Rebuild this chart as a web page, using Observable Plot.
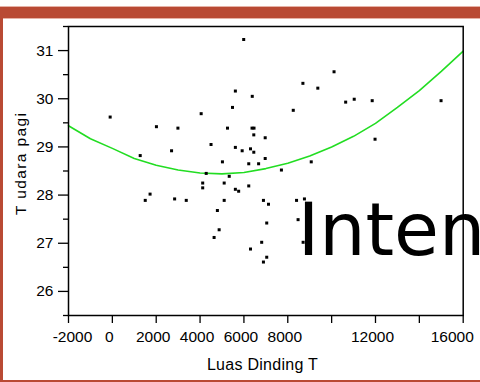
<!DOCTYPE html>
<html><head><meta charset="utf-8">
<script src="https://cdn.jsdelivr.net/npm/d3@7"></script>
<script src="https://cdn.jsdelivr.net/npm/@observablehq/plot@0.6"></script>
<style>
html,body{margin:0;padding:0;background:#fff;}
#wrap{position:relative;width:480px;height:382px;overflow:hidden;background:#fff;font-family:"Liberation Sans",Arial,sans-serif;}
#chart{position:absolute;left:0;top:0;}
#chart svg{overflow:visible;}
.band{position:absolute;background:#b94a34;}
#overlay{position:absolute;left:0;top:0;overflow:hidden;}
</style></head><body>
<div id="wrap">
<div id="chart"></div>
<svg id="overlay" width="480" height="382">
  <text x="262.4" y="370" text-anchor="middle" font-family="Liberation Sans, Arial, sans-serif" font-size="16" textLength="111" fill="#000">Luas Dinding T</text>
  <text transform="translate(26,164) rotate(-90)" text-anchor="middle" font-family="Liberation Sans, Arial, sans-serif" font-size="15.5" textLength="102" fill="#000">T udara pagi</text>
  <text x="297.7" y="255" font-family="DejaVu Sans" font-size="73" fill="#000">Inten</text>
</svg>
<div class="band" style="left:0;top:6px;width:480px;height:1px;background:#e6b2a6"></div>
<div class="band" style="left:0;top:7px;width:480px;height:11px"></div>
<div class="band" style="left:0;top:18px;width:480px;height:1px;background:#e6b2a6"></div>
<div class="band" style="left:0;top:18px;width:3px;height:364px"></div>
<div class="band" style="left:0;top:380px;width:480px;height:2px"></div>
</div>
<script>
// scatter points: Luas Dinding T (x) vs T udara pagi (y)
const xVals = [-100, 4050, 2010, 2990, 5250, 5990, 10110, 8690, 9370, 5610, 6380, 5480, 8250, 10640, 11030, 11850, 14990, 11980, 6370, 6460, 6450, 6970, 5610, 5920, 6300, 6450, 6970, 6220, 6670, 9070, 7710, 6220, 6890, 7120, 8400, 8760, 7040, 8470, 6810, 6300, 8700, 7040, 6890, 1270, 2700, 4500, 5020, 5330, 4280, 4120, 4120, 5100, 5610, 5760, 1720, 1500, 2840, 3370, 5100, 4790, 4870, 4640];
const yVals = [29.62, 29.69, 29.42, 29.39, 29.39, 31.23, 30.56, 30.32, 30.22, 30.16, 30.05, 29.82, 29.76, 29.93, 29.99, 29.96, 29.96, 29.16, 29.39, 29.39, 29.25, 29.19, 28.99, 28.92, 28.96, 28.89, 28.76, 28.65, 28.65, 28.69, 28.52, 28.19, 27.89, 27.81, 27.89, 27.92, 27.42, 27.49, 27.02, 26.88, 27.02, 26.71, 26.61, 28.82, 28.92, 29.05, 28.69, 28.39, 28.45, 28.25, 28.15, 28.25, 28.12, 28.08, 28.02, 27.89, 27.92, 27.89, 27.89, 27.68, 27.28, 27.12];
// fitted curve
const curveX = [-2000, -1000, 0, 1000, 2000, 3000, 4000, 5000, 6000, 7000, 8000, 9000, 10000, 11000, 12000, 13000, 14000, 15000, 16000];
const curveY = [29.44, 29.17, 28.97, 28.76, 28.62, 28.52, 28.46, 28.44, 28.47, 28.55, 28.66, 28.81, 29.00, 29.22, 29.49, 29.82, 30.17, 30.57, 30.99];
// ticks
const xTicks = [-2000, 0, 2000, 4000, 6000, 8000, 10000, 12000, 14000, 16000];
const xTickLabels = [-2000, 0, 2000, 4000, 6000, 8000, 12000, 16000];
const yTicks = [26, 27, 28, 29, 30, 31];
const yMinorTicks = [25.5, 26.5, 27.5, 28.5, 29.5, 30.5, 31.5];

const points = xVals.map((x, i) => ({x, y: yVals[i]}));
const curve = curveX.map((x, i) => ({x, y: curveY[i]}));
const xFirst = xTickLabels[0];
const xLast = xTickLabels[xTickLabels.length - 1];
const xInner = xTickLabels.slice(1, -1);
const labelOpts = {x: d => d, text: d => String(d), frameAnchor: "bottom", lineAnchor: "top", dy: 15, fontSize: 15.5, fill: "#000"};

const chart = Plot.plot({
  width: 480,
  height: 382,
  marginLeft: 68,
  marginTop: 26,
  marginRight: 17.3,
  marginBottom: 67,
  style: {background: "transparent", fontFamily: "Liberation Sans, Arial, sans-serif", fontSize: "15.5px", color: "#000", overflow: "visible"},
  x: {domain: [-2000, 16000], label: null},
  y: {domain: [25.5, 31.5], label: null},
  marks: [
    Plot.axisY(yMinorTicks, {tickSize: 5, tickFormat: () => "", strokeWidth: 1.3, label: null}),
    Plot.axisY(yTicks, {tickSize: 10, tickPadding: 5, tickFormat: d => String(d), strokeWidth: 1.3, label: null}),
    Plot.axisX(xTicks, {tickSize: 8, tickFormat: () => "", strokeWidth: 1.3, label: null}),
    Plot.text(xInner, {...labelOpts, dx: -3}),
    Plot.text([xFirst], {...labelOpts, dx: 4}),
    Plot.text([xLast], {...labelOpts, dx: -11}),
    Plot.line(curve, {x: "x", y: "y", stroke: "#22dd22", strokeWidth: 1.6}),
    Plot.dot(points, {x: "x", y: "y", symbol: "square", r: 1.7, fill: "#000", stroke: "none"}),
    Plot.frame({stroke: "#000", strokeWidth: 1.5})
  ]
});
document.getElementById("chart").appendChild(chart);
</script>
</body></html>
